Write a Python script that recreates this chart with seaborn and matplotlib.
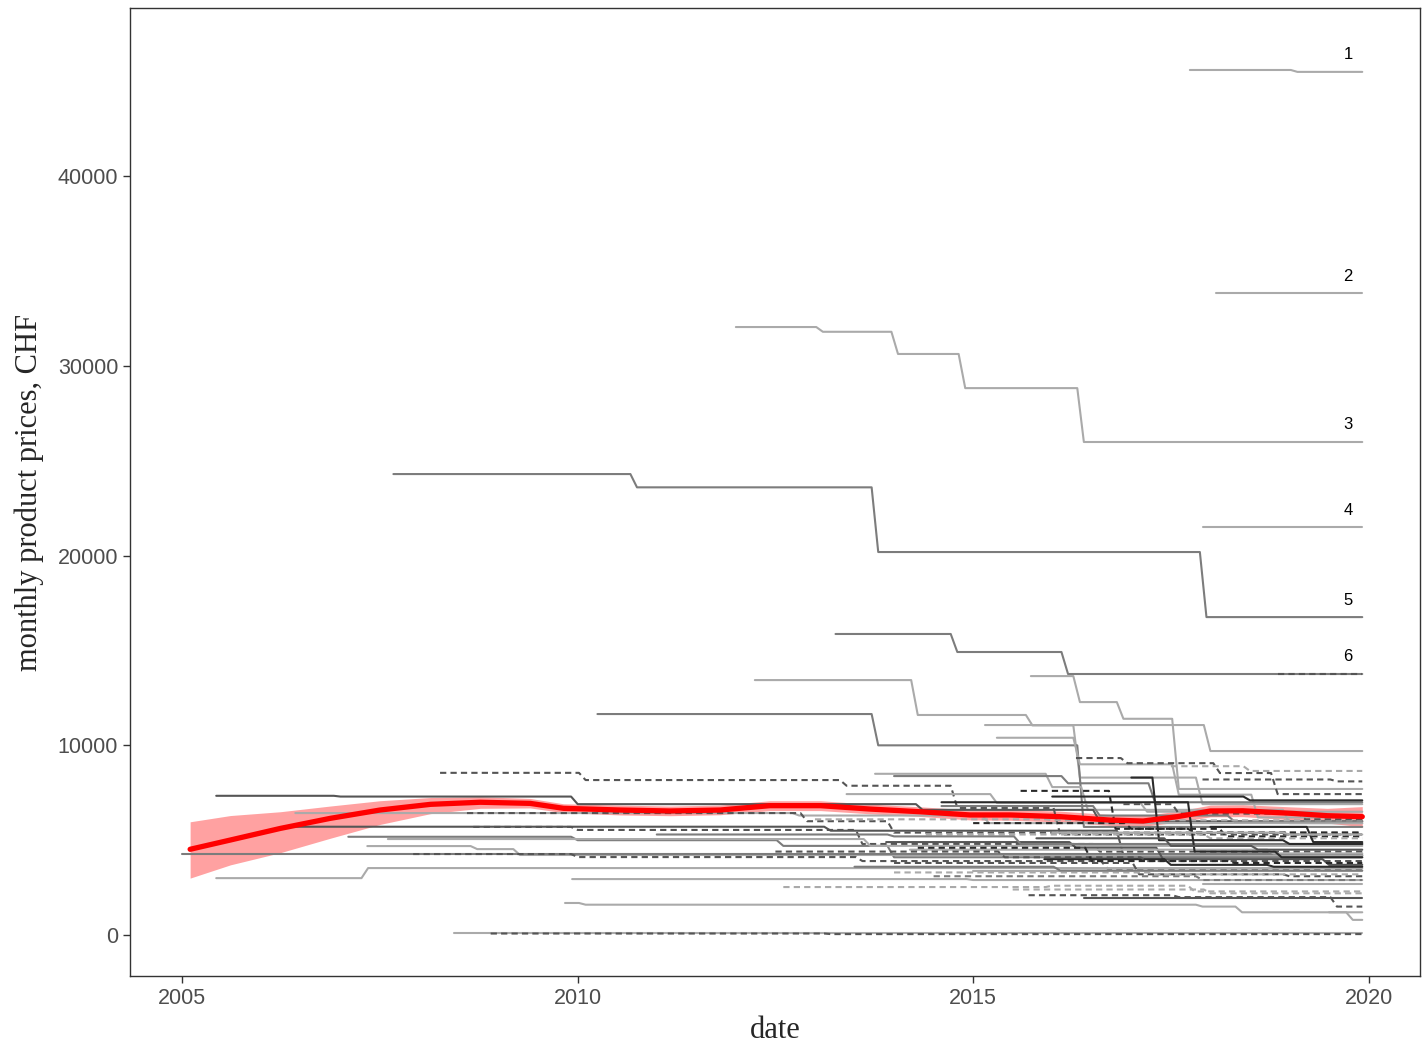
import matplotlib
matplotlib.use("Agg")
import matplotlib.pyplot as plt
import pandas as pd
import seaborn as sns

sns.set_style("white")
plt.rcParams["font.family"] = ["Liberation Sans", "DejaVu Sans"]

END_YEAR = 2019.92

# price histories: (year of change, new monthly price in CHF)
series_steps = [
    [(2017.74, 45600), (2019.10, 45500)],
    [(2018.07, 33840)],
    [(2012.00, 32050), (2013.10, 31800), (2014.05, 30630), (2014.90, 28830), (2016.40, 25990)],
    [(2017.90, 21500)],
    [(2007.67, 24300), (2010.75, 23600), (2013.80, 20190), (2017.95, 16760)],
    [(2013.26, 15870), (2014.80, 14920), (2016.20, 13760)],
    [(2018.85, 13760)],
    [(2012.24, 13440), (2014.30, 11600), (2015.75, 11050), (2016.35, 8300), (2017.90, 6900)],
    [(2015.73, 13650), (2016.35, 12280), (2016.90, 11400), (2017.60, 7700)],
    [(2015.15, 11070), (2018.00, 9700)],
    [(2010.25, 11650), (2013.80, 10000), (2016.40, 5700)],
    [(2015.30, 10400), (2016.35, 9000), (2017.60, 7400), (2018.60, 6200)],
    [(2016.30, 9330), (2016.95, 9060), (2018.12, 8540), (2018.85, 7430)],
    [(2008.26, 8550), (2010.10, 8170), (2013.40, 7870), (2014.80, 6700), (2016.10, 5300)],
    [(2013.76, 8500), (2016.00, 7800), (2016.45, 6600), (2019.00, 5900)],
    [(2014.00, 8380), (2016.20, 8000), (2017.30, 7000)],
    [(2017.50, 8900), (2018.50, 8650)],
    [(2013.40, 7430), (2015.30, 6960), (2017.20, 6500)],
    [(2005.43, 7340), (2007.00, 7300), (2010.00, 6900), (2014.36, 6600), (2016.60, 6000)],
    [(2006.43, 6430), (2012.80, 6300), (2015.20, 5900)],
    [(2008.60, 6430), (2012.90, 6000), (2014.00, 5400)],
    [(2006.43, 5710), (2013.20, 5500), (2016.90, 4200)],
    [(2008.68, 5700), (2010.00, 5540), (2013.60, 4800), (2016.60, 4400)],
    [(2007.10, 5180), (2010.00, 5000), (2012.60, 4700), (2014.00, 4100)],
    [(2007.60, 5060), (2013.70, 4700)],
    [(2007.34, 4690), (2008.73, 4530), (2009.27, 4220)],
    [(2005.00, 4270)],
    [(2007.92, 4270), (2010.00, 4110), (2013.60, 3900), (2016.70, 3500)],
    [(2005.43, 3000), (2007.35, 3530)],
    [(2009.93, 2950), (2015.00, 2900)],
    [(2009.84, 1690), (2010.10, 1600), (2017.90, 1500), (2018.40, 1200)],
    [(2008.43, 100)],
    [(2008.90, 80), (2013.20, 50)],
    [(2012.60, 2530), (2016.00, 2600), (2017.80, 2300)],
    [(2016.40, 1950)],
    [(2016.00, 7300), (2018.50, 7100)],
    [(2014.60, 6800), (2016.60, 6300), (2018.30, 6000)],
    [(2015.00, 5900), (2017.00, 5600), (2018.20, 5200)],
    [(2014.40, 5300), (2018.00, 5100)],
    [(2013.90, 4900), (2016.30, 4600), (2017.40, 4000), (2019.50, 3700)],
    [(2014.20, 4500), (2018.80, 4300)],
    [(2014.00, 3800), (2017.10, 3200), (2019.00, 3100)],
    [(2015.00, 3400)],
    [(2014.50, 3100), (2017.90, 2900)],
    [(2015.90, 4000), (2017.50, 3700), (2018.80, 3600)],
    [(2017.90, 2700)],
    [(2015.70, 2100), (2017.60, 2000), (2019.60, 1500)],
    [(2019.50, 1200), (2019.80, 800)],
    [(2018.00, 5700), (2019.30, 4900)],
    [(2013.00, 6100), (2016.00, 6050)],
    [(2011.00, 5300), (2014.00, 5200), (2015.60, 4800)],
    [(2012.50, 4400), (2015.40, 4100), (2017.20, 3900)],
    [(2015.60, 7600), (2016.80, 5600), (2017.80, 5400)],
    [(2014.60, 7000), (2017.80, 4400), (2018.90, 4100)],
    [(2016.90, 6900), (2017.60, 6400), (2019.20, 6100)],
    [(2017.00, 8300), (2017.35, 5000), (2019.00, 4800)],
    [(2015.80, 5100), (2017.50, 4700), (2018.60, 4500)],
    [(2014.30, 4600), (2016.50, 3900), (2018.30, 3800)],
    [(2016.00, 5400), (2019.00, 5300)],
    [(2017.90, 8200), (2019.60, 8100)],
    [(2014.00, 3300), (2017.30, 3200)],
    [(2013.50, 3600), (2016.10, 3400)],
    [(2015.50, 2400), (2018.00, 2200)],
]
series_shade = ["L", "L", "L", "L", "M", "M", "D", "L", "L", "L",
                "M", "L", "D", "D", "L", "M", "L", "L", "D", "L",
                "D", "D", "D", "M", "L", "L", "M", "D", "L", "L",
                "L", "L", "D", "L", "D", "K", "M", "K", "L", "D",
                "L", "D", "L", "M", "K", "L", "D", "L", "K", "L",
                "M", "D", "K", "K", "D", "K", "D", "K", "L", "D",
                "L", "M", "L"]
series_dashed = [0, 0, 0, 0, 0, 0, 1, 0, 0, 0,
                 0, 0, 1, 1, 0, 0, 1, 0, 0, 0,
                 1, 0, 1, 0, 0, 0, 0, 1, 0, 0,
                 0, 0, 1, 1, 0, 0, 0, 1, 1, 0,
                 0, 1, 0, 1, 0, 0, 1, 0, 0, 1,
                 0, 1, 1, 0, 1, 0, 0, 1, 0, 1,
                 1, 0, 1]

# numbered products (index into series_steps)
label_text = ["1", "2", "3", "4", "5", "6"]
label_series = [0, 1, 2, 3, 4, 5]

# smoothed average with confidence band
smooth_year = [2005.10, 2005.61, 2006.24, 2006.87, 2007.50, 2008.14, 2008.77, 2009.40,
               2009.82, 2010.54, 2011.17, 2011.80, 2012.43, 2013.07, 2013.70, 2014.33,
               2014.96, 2015.47, 2016.10, 2016.73, 2017.15, 2017.58, 2018.00, 2018.41,
               2019.05, 2019.48, 2019.92]
smooth_price = [4520, 5010, 5620, 6150, 6590, 6890, 7000, 6940,
                6680, 6590, 6540, 6590, 6820, 6820, 6640, 6500,
                6330, 6330, 6240, 6060, 6010, 6240, 6540, 6550,
                6410, 6290, 6240]
smooth_lower = [3000, 3700, 4340, 5100, 5830, 6400, 6680, 6700,
                6450, 6330, 6290, 6340, 6560, 6560, 6390, 6250,
                6070, 6050, 5960, 5780, 5730, 5950, 6230, 6240,
                6070, 5900, 5710]
smooth_upper = [5970, 6300, 6500, 6800, 7080, 7250, 7290, 7200,
                6920, 6850, 6800, 6850, 7080, 7080, 6900, 6760,
                6600, 6620, 6530, 6350, 6300, 6530, 6850, 6870,
                6750, 6680, 6770]

shade_colors = {"L": "#aaaaaa", "M": "#7c7c7c", "D": "#555555", "K": "#2a2a2a"}


def step_frame(steps):
    xs, ys = [], []
    for i, (t, p) in enumerate(steps):
        if i > 0:
            xs.append(t - 1 / 12)
            ys.append(steps[i - 1][1])
        xs.append(t)
        ys.append(p)
    xs.append(END_YEAR)
    ys.append(steps[-1][1])
    return pd.DataFrame({"date": xs, "price": ys})


fig, ax = plt.subplots(figsize=(14.24, 10.43), dpi=100)
fig.subplots_adjust(left=0.0913, right=0.9972, bottom=0.0642, top=0.9923)

for steps, shade, dashed in zip(series_steps, series_shade, series_dashed):
    df = step_frame(steps)
    sns.lineplot(data=df, x="date", y="price", ax=ax, sort=False, estimator=None,
                 color=shade_colors[shade], lw=1.5,
                 linestyle=(0, (3, 2)) if dashed else "-")

sm = pd.DataFrame({"date": smooth_year, "price": smooth_price,
                   "lo": smooth_lower, "hi": smooth_upper})
ax.fill_between(sm["date"], sm["lo"], sm["hi"], color="#ff5555", alpha=0.55, lw=0)
sns.lineplot(data=sm, x="date", y="price", ax=ax, color="red", lw=3.8)

for txt, idx in zip(label_text, label_series):
    ax.text(2019.74, series_steps[idx][-1][1] + 900, txt, ha="center", va="center",
            fontsize=12, color="black")

ax.set_xlim(2004.34, 2020.65)
ax.set_ylim(-2161, 48866)
ax.set_xticks([2005, 2010, 2015, 2020])
ax.set_xticklabels(["2005", "2010", "2015", "2020"])
ax.set_yticks([0, 10000, 20000, 30000, 40000])
ax.set_yticklabels(["0", "10000", "20000", "30000", "40000"])
ax.tick_params(axis="both", which="both", direction="out", length=5, width=1,
               color="#333333", labelcolor="#4d4d4d", labelsize=15.5,
               bottom=True, left=True)
for sp in ax.spines.values():
    sp.set_color("#333333")
    sp.set_linewidth(1)
    sp.set_visible(True)

ax.set_xlabel("date", family=["Liberation Serif", "DejaVu Serif"], fontsize=22)
ax.set_ylabel("monthly product prices, CHF", family=["Liberation Serif", "DejaVu Serif"],
              fontsize=22)
ax.xaxis.labelpad = 5
ax.yaxis.labelpad = 10

fig.savefig("out.png", dpi=100)
